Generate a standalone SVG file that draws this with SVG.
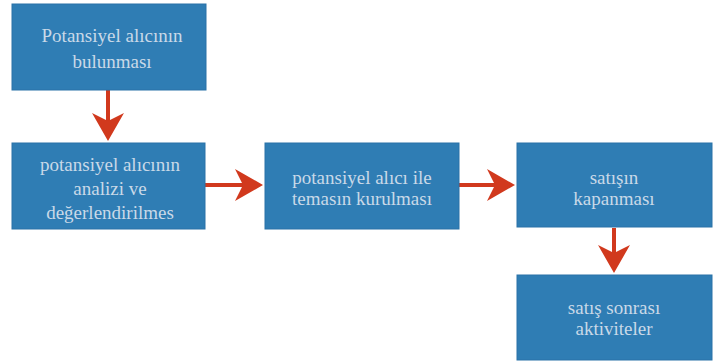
<svg xmlns="http://www.w3.org/2000/svg" width="714" height="363" viewBox="0 0 714 363">
<style>
.box{fill:#2f7db4;stroke:#2a73a8;stroke-width:1}
.t{font-size:19px;fill:#c9d9e8;text-anchor:middle}
.c{stroke:#d1391d;stroke-width:4;fill:none}
</style>
<defs>
<marker id="ah" markerWidth="8" markerHeight="8" refX="6" refY="4" orient="auto" markerUnits="strokeWidth">
<path d="M0,0 L7,4 L0,8 L2,4 Z" fill="#d1391d"/>
</marker>
</defs>
<rect width="714" height="363" fill="#ffffff"/>
<g id="connectors">
<line class="c" x1="108" y1="90" x2="108" y2="137" marker-end="url(#ah)"/>
<line class="c" x1="205" y1="185" x2="259" y2="185" marker-end="url(#ah)"/>
<line class="c" x1="459" y1="185" x2="511" y2="185" marker-end="url(#ah)"/>
<line class="c" x1="614" y1="228" x2="614" y2="269" marker-end="url(#ah)"/>
</g>
<g font-family="Liberation Serif, DejaVu Serif, serif">
<g id="n1"><rect class="box" x="12" y="4" width="194" height="86"/>
<text class="t" x="112" y="42">Potansiyel alıcının</text>
<text class="t" x="112" y="68">bulunması</text></g>
<g id="n2"><rect class="box" x="12" y="143" width="193" height="86"/>
<text class="t" x="110" y="171">potansiyel alıcının</text>
<text class="t" x="110" y="195">analizi ve</text>
<text class="t" x="110" y="219">değerlendirilmes</text></g>
<g id="n3"><rect class="box" x="265" y="143" width="194" height="86"/>
<text class="t" x="362" y="184">potansiyel alıcı ile</text>
<text class="t" x="362" y="205">temasın kurulması</text></g>
<g id="n4"><rect class="box" x="517" y="143" width="195" height="84"/>
<text class="t" x="614" y="184">satışın</text>
<text class="t" x="614" y="205">kapanması</text></g>
<g id="n5"><rect class="box" x="517" y="275" width="195" height="85"/>
<text class="t" x="614" y="314">satış sonrası</text>
<text class="t" x="614" y="335">aktiviteler</text></g>
</g>
</svg>
